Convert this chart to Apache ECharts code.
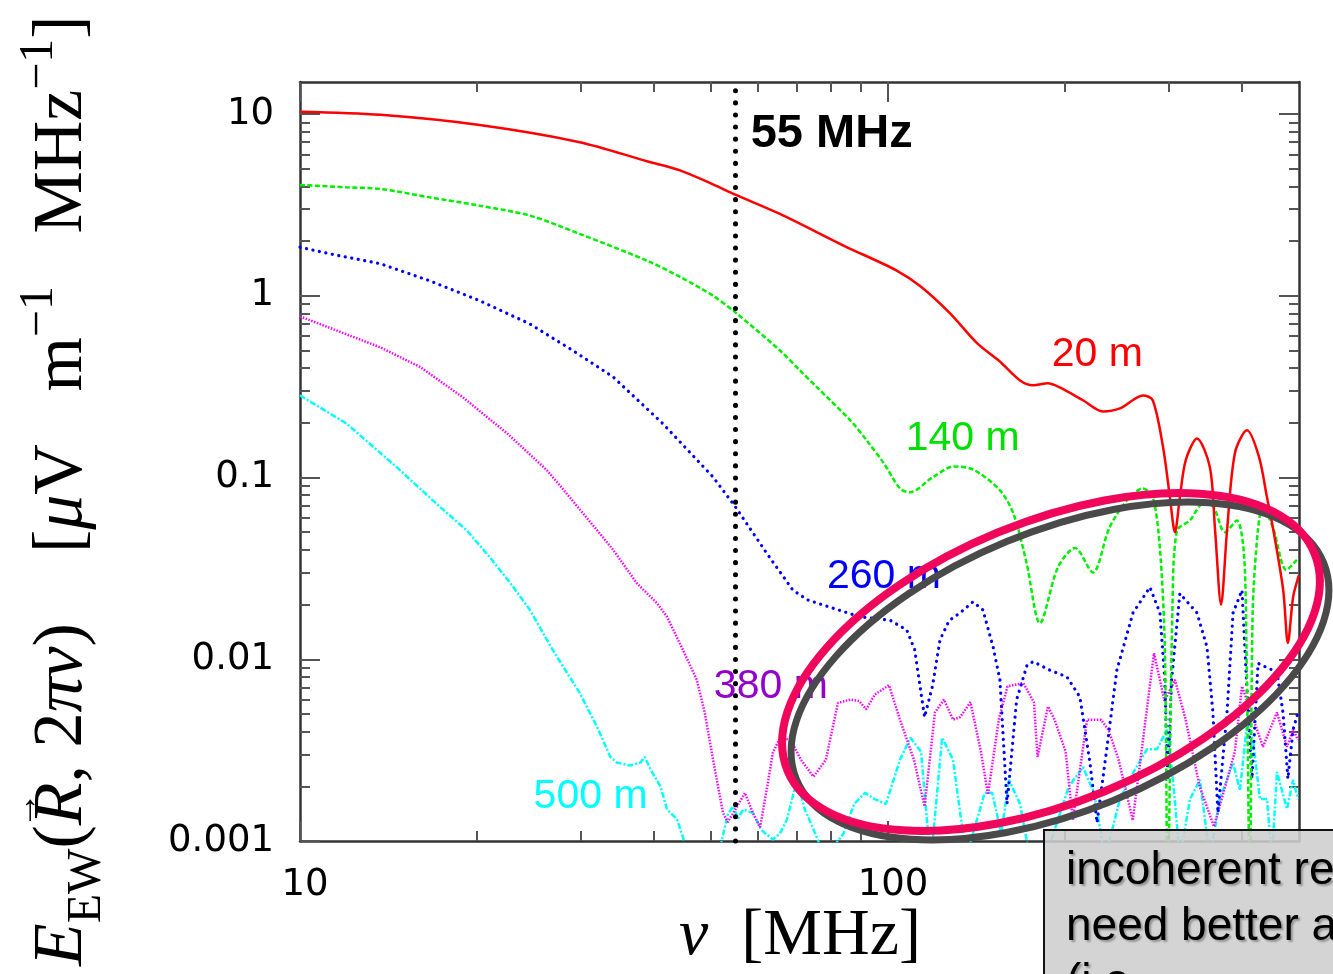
<!DOCTYPE html>
<html>
<head>
<meta charset="utf-8">
<script src="https://cdn.jsdelivr.net/npm/echarts@6/dist/echarts.min.js"></script>
<style>
  html, body { margin: 0; padding: 0; background: #fff; }
  #chart { width: 1333px; height: 974px; }
</style>
</head>
<body>
<div id="chart"></div>
<script>
// [frequency MHz, E_EW uV/m/MHz]
const curve20m = [
  [10, 10.3], [13.7, 9.9], [20.2, 8.7], [29.9, 7.0], [38.9, 5.5], [44.3, 4.9], [50.4, 4.1], [55, 3.6],
  [65.5, 2.82], [84, 1.89], [103.3, 1.38], [113.8, 1.12], [127.5, 0.80], [142, 0.545], [154.3, 0.44],
  [167.7, 0.342], [176.6, 0.322], [187, 0.33], [196, 0.313], [214.6, 0.266], [232, 0.231], [248, 0.24],
  [271.5, 0.283], [282, 0.266], [293.6, 0.147], [301.6, 0.078], [307.6, 0.05], [313.6, 0.078], [321, 0.125],
  [335.3, 0.164], [352.7, 0.114], [360, 0.051], [368.5, 0.02], [377.2, 0.051], [389, 0.136], [407.9, 0.182],
  [427.5, 0.13], [441, 0.078], [453.4, 0.049], [470, 0.024], [478.7, 0.0123], [488.6, 0.022], [498, 0.028], [500, 0.029]
];
const curve140m = [
  [10, 4.07], [12, 3.95], [13.7, 3.87], [16.6, 3.48], [20.2, 3.13], [24.6, 2.76], [29.9, 2.19], [38.9, 1.56],
  [44.3, 1.27], [50.4, 1.0], [55, 0.81], [65.5, 0.50], [70.8, 0.389], [75.6, 0.315], [86.2, 0.207], [92, 0.16],
  [98.5, 0.119], [104.8, 0.087], [109, 0.083], [119, 0.10], [129.5, 0.115], [140, 0.11], [155, 0.085],
  [163.5, 0.063], [172, 0.034], [181.3, 0.0158], [194.5, 0.032], [208, 0.041], [223, 0.030], [238, 0.053],
  [255, 0.075], [271, 0.087], [282, 0.078], [290, 0.041], [295.6, 0.0117], [299, 0.0005], [304.5, 0.018],
  [310, 0.051], [326, 0.058], [344, 0.072], [357.5, 0.069], [374, 0.050], [392, 0.058], [403, 0.038],
  [407, 0.0117], [412.6, 0.0005], [417, 0.018], [425.6, 0.051], [434, 0.069], [451.5, 0.053], [476, 0.031],
  [495, 0.035], [500, 0.036]
];
const curve260m = [
  [10, 1.85], [11.25, 1.70], [13.7, 1.50], [16.6, 1.21], [20.2, 0.94], [24.6, 0.70], [29.1, 0.50], [34.1, 0.357],
  [41.4, 0.198], [50.4, 0.1007], [55, 0.069], [62.3, 0.038], [68.9, 0.024], [73, 0.0212], [80.6, 0.0191],
  [89.6, 0.0171], [100.8, 0.0164], [107.6, 0.0145], [111, 0.0113], [115.4, 0.0048], [119, 0.0071],
  [122.6, 0.0128], [127, 0.0163], [132.6, 0.018], [139.5, 0.0207], [145, 0.0187], [150.9, 0.0117],
  [155, 0.0077], [159.4, 0.0016], [165.5, 0.006], [172.4, 0.0093], [176.6, 0.0097], [188.6, 0.0087],
  [201.5, 0.008], [212, 0.0062], [220.5, 0.0027], [226.7, 0.00126], [235.8, 0.0033], [245, 0.0087],
  [261, 0.018], [278.9, 0.0249], [290, 0.018], [295.6, 0.0077], [299, 0.0022], [303.6, 0.0077], [313.6, 0.023],
  [335.3, 0.018], [348.7, 0.0117], [356.9, 0.0051], [364, 0.00143], [377.2, 0.0051], [386.2, 0.018],
  [400, 0.024], [407, 0.0077], [415.9, 0.0022], [425.9, 0.0095], [441, 0.009], [458.7, 0.0085],
  [469.6, 0.0051], [478.7, 0.0022], [488.6, 0.0041], [498, 0.0051]
];
const curve380m = [
  [10, 0.77], [13.7, 0.52], [16, 0.406], [18.9, 0.277], [22.5, 0.175], [26.3, 0.1096], [28.4, 0.0817],
  [32, 0.0513], [34.1, 0.0399], [37.4, 0.0262], [40.5, 0.0203], [42.1, 0.0171], [44.8, 0.01125], [47.3, 0.0077],
  [48.8, 0.00507], [50.4, 0.0028], [52.4, 0.00143], [53.4, 0.00127], [55.4, 0.00155], [57.1, 0.00184],
  [58.9, 0.00143], [60.6, 0.00119], [62.3, 0.00198], [63.7, 0.00306], [65.5, 0.0037], [68.3, 0.0036],
  [71.1, 0.0028], [74.7, 0.00226], [78.4, 0.0028], [82.2, 0.00575], [86.3, 0.006], [89.3, 0.0059],
  [91.8, 0.0053], [95, 0.0064], [100.4, 0.0072], [104.8, 0.00465], [110.7, 0.0028], [115.4, 0.00155],
  [120.2, 0.0051], [124.5, 0.006], [129, 0.00465], [132.6, 0.0048], [138.1, 0.0058], [143.9, 0.0031],
  [147.9, 0.0018], [154.3, 0.00465], [159.7, 0.0071], [169.9, 0.0074], [177.1, 0.0058], [179.6, 0.0029],
  [187.1, 0.0055], [192, 0.00465], [200.5, 0.0031], [206.2, 0.0013], [218, 0.00465], [230.3, 0.00465],
  [237, 0.0041], [246.7, 0.0028], [260.8, 0.0013], [283.4, 0.0108], [295.3, 0.0059], [307.6, 0.0077],
  [320.8, 0.00465], [338.8, 0.002], [358.4, 0.0012], [389, 0.0031], [400, 0.0071], [411, 0.0055],
  [434.2, 0.0033], [458.7, 0.0051], [477, 0.0033], [488.6, 0.0041], [498, 0.0036]
];
const curve500m = [
  [10, 0.283], [12, 0.198], [14.6, 0.114], [17.3, 0.0689], [19.2, 0.0513], [21, 0.0366], [22.8, 0.0262],
  [24.6, 0.0187], [26.9, 0.01125], [29.9, 0.00653], [32, 0.00425], [33.7, 0.00291], [34.6, 0.0027],
  [36.4, 0.0026], [37.9, 0.0027], [38.6, 0.0029], [39.4, 0.0025], [41, 0.002], [42.1, 0.00149],
  [43.8, 0.00131], [44.8, 0.00105], [46.1, 0.0007], [51, 0.0007], [52.2, 0.00102], [53.4, 0.0014],
  [54.5, 0.00155], [55.6, 0.00133], [56.7, 0.00149], [58.9, 0.00143], [60.9, 0.00115], [63.7, 0.00102],
  [65.5, 0.0011], [67.3, 0.00131], [70, 0.00217], [72.2, 0.00149], [75.2, 0.0011], [78.2, 0.0008],
  [84, 0.0011], [87.6, 0.0016], [91.4, 0.00184], [94.9, 0.0017], [99.2, 0.0016], [104.8, 0.0028],
  [109.2, 0.0037], [113.8, 0.0031], [117, 0.0011], [118.4, 0.0008], [123.6, 0.0037], [129, 0.0028],
  [134.1, 0.0011], [135.6, 0.0008], [146, 0.00184], [150.4, 0.00184], [155.8, 0.0011], [160.6, 0.00217],
  [167.7, 0.0016], [174.4, 0.0008], [185, 0.0008], [203.1, 0.002], [214.6, 0.00255], [224.1, 0.00184],
  [233.9, 0.0008], [248, 0.0017], [263, 0.00247], [275.7, 0.0032], [286.7, 0.0032], [298.2, 0.0041],
  [305.3, 0.00217], [313.6, 0.0008], [326.2, 0.0017], [339.2, 0.00217], [352.7, 0.0008], [366.8, 0.0017],
  [386.2, 0.0027], [396.7, 0.0019], [407.9, 0.0044], [417.6, 0.0036], [429.1, 0.0017], [441, 0.0017],
  [449.7, 0.0008], [458.7, 0.0024], [477, 0.0015], [488.6, 0.00217], [498, 0.0017]
];

const markFreq = 55;
const xMajor = [10, 100];
const xMinor = [20, 30, 40, 50, 60, 70, 80, 90, 200, 300, 400];
const yMajor = [0.001, 0.01, 0.1, 1, 10];
const yMinor = [];
[0.001, 0.01, 0.1, 1].forEach(function (d) {
  for (let m = 2; m <= 9; m++) yMinor.push(+(m * d).toPrecision(2));
});

// text labels placed in data space
const curveLabels = [
  { text: '20 m', at: [227, 0.476], color: '#ff0000' },
  { text: '140 m', at: [134, 0.164], color: '#00e000' },
  { text: '260 m', at: [98.4, 0.0283], color: '#0000ff' },
  { text: '380 m', at: [63.2, 0.0071], color: '#9400cc' },
  { text: '500 m', at: [31.2, 0.00175], color: '#00ffff' }
];

const chart = echarts.init(document.getElementById('chart'));

const sans = 'Liberation Sans, Arial, sans-serif';
const tickFont = 'DejaVu Sans, sans-serif';
const serif = 'Liberation Serif, Times New Roman, serif';
const fmt = function (v) { return String(+(+v).toPrecision(3)); };

function axis(dim, pos, ticks, len, main, label) {
  const ax = {
    type: 'log', logBase: 10, position: pos,
    min: dim === 'x' ? 10 : 0.001,
    max: dim === 'x' ? 500 : 15,
    axisLine: { show: main, onZero: false, lineStyle: { color: '#333', width: 2.5 } },
    axisTick: { show: true, inside: true, length: len, customValues: ticks, lineStyle: { color: '#555', width: 2 } },
    axisLabel: { show: false },
    splitLine: { show: false },
    minorTick: { show: false }
  };
  if (label) {
    ax.axisLabel = {
      show: true, customValues: ticks, formatter: fmt,
      fontFamily: tickFont, fontSize: 37, color: '#000',
      margin: 26,
      padding: dim === 'x' ? [0, 0, 0, 10] : 0
    };
  }
  return ax;
}

function line(name, data, color, type, width, cap, smooth) {
  return {
    name: name, type: 'line', data: data, xAxisIndex: 0, yAxisIndex: 0,
    symbol: 'none', showSymbol: false, clip: true, silent: true, smooth: smooth || false,
    lineStyle: { color: color, width: width, type: type, cap: cap || 'butt' }
  };
}

const option = {
  animation: false,
  backgroundColor: '#fff',
  grid: { left: 300, right: 34, top: 82, bottom: 133 },
  xAxis: [
    axis('x', 'bottom', xMajor, 20, true, true),
    axis('x', 'bottom', xMinor, 10, false, false),
    axis('x', 'top', xMajor, 20, true, false),
    axis('x', 'top', xMinor, 10, false, false)
  ],
  yAxis: [
    axis('y', 'left', yMajor, 20, true, true),
    axis('y', 'left', yMinor, 10, false, false),
    axis('y', 'right', yMajor, 20, true, false),
    axis('y', 'right', yMinor, 10, false, false)
  ],
  series: [
    line('500 m', curve500m, '#00ffff', [6, 2, 2, 2], 2.5),
    line('380 m', curve380m, '#ff00ff', [1.5, 1.5], 2.5),
    line('260 m', curve260m, '#0000ff', [0.1, 6.5], 3.2, 'round'),
    line('140 m', curve140m, '#00ee00', [5, 2.5], 2.5, 'butt', 0.3),
    Object.assign(line('20 m', curve20m, '#ff0000', 'solid', 2.5, 'butt', 0.3), {
      markLine: {
        silent: true, symbol: 'none', label: { show: false },
        lineStyle: { color: '#000', width: 5, type: [0.1, 12], cap: 'round' },
        data: [{ xAxis: markFreq }]
      }
    }),
    {
      type: 'scatter', xAxisIndex: 0, yAxisIndex: 0, silent: true,
      symbolSize: 1, itemStyle: { color: 'rgba(0,0,0,0)', opacity: 1 },
      label: { show: true, position: 'inside', fontFamily: sans, fontSize: 41, opacity: 1 },
      data: curveLabels.map(function (l) {
        return { value: l.at, label: { formatter: l.text, color: l.color } };
      }).concat([{
        value: [58.3, 7.8],
        label: { formatter: markFreq + ' MHz', color: '#000', fontWeight: 'bold', fontSize: 47, position: 'right', distance: 0 }
      }])
    }
  ],
  graphic: [
    {
      // y axis title, anchored at its lower end and read bottom-to-top
      type: 'text', x: 63, y: 966, rotation: Math.PI / 2, z: 50,
      style: {
        text: '{it|E}{sub|EW}{rm|(}{it|R}{rm|, 2}{it|\u03C0\u03BD}{rm|)    [}{it|\u03BC}{rm|V   m}{sup|\u22121}{rm|   MHz}{sup|\u22121}{rm|]}',
        align: 'left', verticalAlign: 'middle', fill: '#000',
        rich: {
          rm: { fontFamily: serif, fontSize: 70, lineHeight: 96, fill: '#000' },
          it: { fontFamily: serif, fontStyle: 'italic', fontSize: 70, lineHeight: 96, fill: '#000' },
          sub: { fontFamily: serif, fontSize: 48, lineHeight: 48, verticalAlign: 'bottom', fill: '#000' },
          sup: { fontFamily: serif, fontSize: 48, lineHeight: 48, verticalAlign: 'top', fill: '#000' }
        }
      }
    },
    {
      // vector arrow over R
      type: 'text', x: 27, y: 810, rotation: Math.PI / 2, z: 50,
      style: { text: '\u2192', font: '36px ' + serif, fill: '#000', align: 'center', verticalAlign: 'middle' }
    },
    {
      type: 'text', x: 800, y: 937, z: 50,
      style: {
        text: '{it|\u03BD}{rm|  [MHz]}',
        align: 'center', verticalAlign: 'middle',
        rich: {
          rm: { fontFamily: serif, fontSize: 66, lineHeight: 80, fill: '#000' },
          it: { fontFamily: serif, fontStyle: 'italic', fontSize: 66, lineHeight: 80, fill: '#000' }
        }
      }
    },
    {
      type: 'ellipse', x: 1060, y: 671, rotation: 0.391, z: 60,
      shape: { cx: 0, cy: 0, rx: 285, ry: 140 },
      style: { fill: 'none', stroke: '#4a4a4a', lineWidth: 7 }
    },
    {
      type: 'ellipse', x: 1051, y: 662, rotation: 0.391, z: 61,
      shape: { cx: 0, cy: 0, rx: 285, ry: 140 },
      style: { fill: 'none', stroke: '#f0065a', lineWidth: 8 }
    },
    {
      type: 'rect', z: 70,
      shape: { x: 1044, y: 830, width: 320, height: 160 },
      style: { fill: 'rgba(206,206,206,0.88)', stroke: '#111', lineWidth: 2 }
    },
    {
      type: 'text', x: 1066, y: 843, z: 71,
      style: {
        text: 'incoherent regime\nneed better analysis\n(i.e.',
        font: '46px ' + sans, fill: '#000', lineHeight: 56,
        align: 'left', verticalAlign: 'top',
        textShadowColor: 'rgba(0,0,0,0.3)', textShadowBlur: 2,
        textShadowOffsetX: 2, textShadowOffsetY: 2
      }
    }
  ]
};

chart.setOption(option);
</script>
</body>
</html>
